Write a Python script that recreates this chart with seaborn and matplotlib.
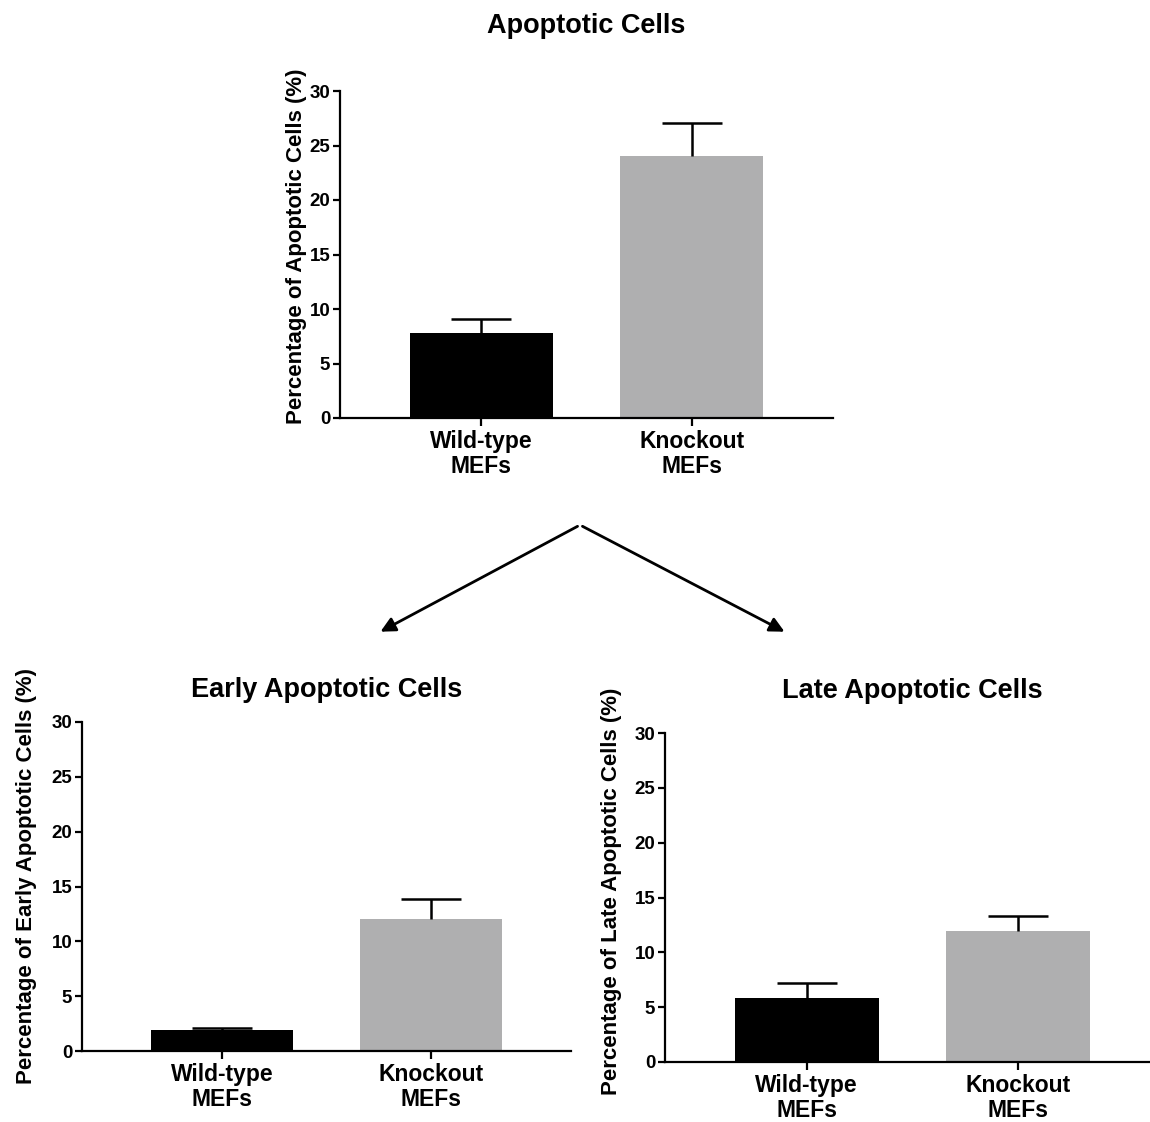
import matplotlib
matplotlib.use("Agg")
import matplotlib.pyplot as plt
import seaborn as sns
import pandas as pd

# data
groups = ["Wild-type\nMEFs", "Knockout\nMEFs"]
total_mean = [7.8, 24.0]
total_sem = [1.3, 3.1]
early_mean = [1.9, 12.0]
early_sem = [0.2, 1.9]
late_mean = [5.8, 11.9]
late_sem = [1.4, 1.4]
yticks = [0, 5, 10, 15, 20, 25, 30]

bar_colors = ["#000000", "#afafb0"]

sns.set_style("ticks")
plt.rcParams["font.family"] = ["Liberation Sans", "DejaVu Sans"]
plt.rcParams["font.weight"] = "bold"
for key in ["text.color", "axes.labelcolor", "xtick.color", "ytick.color", "axes.edgecolor"]:
    plt.rcParams[key] = "black"

fig = plt.figure(figsize=(11.5, 11.22), dpi=100)
W, H = 1150, 1122


def px_axes(left, top, right, bottom):
    return fig.add_axes([left / W, 1 - bottom / H, (right - left) / W, (bottom - top) / H])


def draw_panel(ax, means, sems, title, ylabel, title_pad, label_xy):
    df = pd.DataFrame({"group": groups, "value": means})
    sns.barplot(data=df, x="group", y="value", hue="group", palette=bar_colors,
                width=0.68, errorbar=None, legend=False, ax=ax, saturation=1,
                linewidth=0)
    _, caps, _ = ax.errorbar(x=[0, 1], y=means, yerr=[[0, 0], sems], fmt="none",
                             ecolor="black", elinewidth=1.8, capsize=21.5,
                             capthick=1.8, zorder=1)
    caps[0].set_visible(False)  # only the upper cap, like prism plots
    ax.set_xlim(-0.67, 1.67)
    ax.set_ylim(0, 30)
    ax.set_yticks(yticks)
    ax.set_yticklabels([str(t) for t in yticks], fontsize=13.5, fontweight="bold")
    ax.set_xticks([0, 1])
    ax.set_xticklabels(groups, fontsize=16.5, fontweight="bold", linespacing=1.1)
    ax.set_xlabel("")
    ax.set_ylabel(ylabel, fontsize=16, fontweight="bold")
    ax.yaxis.set_label_coords(*label_xy)
    ax.set_title(title, fontsize=19.5, fontweight="bold", pad=title_pad)
    sns.despine(ax=ax)
    for sp in ["left", "bottom"]:
        ax.spines[sp].set_linewidth(1.6)
    ax.tick_params(axis="both", width=1.6, length=5, pad=2)
    ax.tick_params(axis="x", length=6, pad=2.5)


ax_top = px_axes(340, 91, 833, 418)
draw_panel(ax_top, total_mean, total_sem, "Apoptotic Cells",
           "Percentage of Apoptotic Cells (%)", 42, (-0.067, 0.526))

ax_early = px_axes(82, 722, 571, 1051)
draw_panel(ax_early, early_mean, early_sem, "Early Apoptotic Cells",
           "Percentage of Early Apoptotic Cells (%)", 18, (-0.092, 0.532))

ax_late = px_axes(665, 733, 1160, 1062)
draw_panel(ax_late, late_mean, late_sem, "Late Apoptotic Cells",
           "Percentage of Late Apoptotic Cells (%)", 25, (-0.087, 0.52))

# arrows linking the panels
start = (580 / W, 1 - 525 / H)
for end_x in [378, 787]:
    fig.add_artist(matplotlib.patches.FancyArrowPatch(
        start, (end_x / W, 1 - 633 / H), transform=fig.transFigure,
        arrowstyle="-|>", mutation_scale=22, lw=2, color="black"))

fig.savefig("out.png", dpi=100)
